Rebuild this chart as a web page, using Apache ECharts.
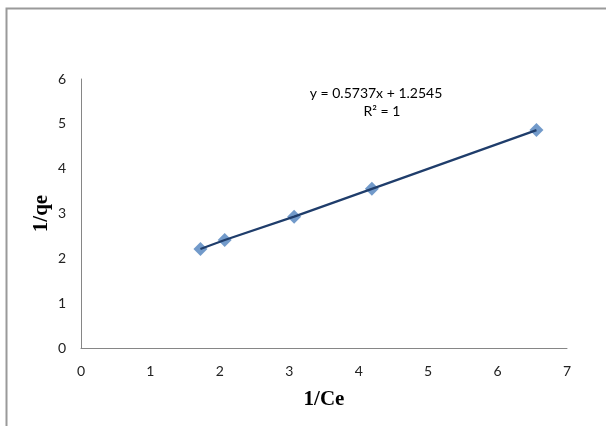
<!DOCTYPE html>
<html>
<head>
<meta charset="utf-8">
<script src="https://cdn.jsdelivr.net/npm/echarts@6/dist/echarts.min.js"></script>
<style>
  html, body { margin: 0; padding: 0; background: #fff; }
  #chart { width: 606px; height: 426px; }
</style>
</head>
<body>
<div id="chart"></div>
<script>
// 1/Ce vs 1/qe
const invCe = [1.72, 2.07, 3.07, 4.19, 6.56];
const invQe = [2.21, 2.41, 2.93, 3.55, 4.86];
const eqText = 'y = 0.5737x + 1.2545';
const r2Text = 'R² = 1';

const points = invCe.map((x, i) => [x, invQe[i]]);

const chart = echarts.init(document.getElementById('chart'));

const tickFont = { fontFamily: 'Lato, "Open Sans", sans-serif', fontSize: 14, color: '#222' };

chart.setOption({
  animation: false,
  backgroundColor: '#fff',
  grid: { left: 81, right: 39, top: 79, bottom: 78 },
  xAxis: {
    type: 'value',
    min: 0, max: 7, interval: 1,
    name: '1/Ce',
    nameLocation: 'middle',
    nameGap: 41,
    nameMoveOverlap: false,
    nameTextStyle: { fontFamily: '"Liberation Serif", serif', fontWeight: 'bold', fontSize: 21, color: '#000' },
    axisLine: { lineStyle: { color: '#868686', width: 1 } },
    axisTick: { show: false },
    splitLine: { show: false },
    axisLabel: Object.assign({ margin: 16 }, tickFont)
  },
  yAxis: {
    type: 'value',
    min: 0, max: 6, interval: 1,
    name: '1/qe',
    nameLocation: 'middle',
    nameGap: 29,
    nameMoveOverlap: false,
    nameRotate: 90,
    nameTextStyle: { fontFamily: '"Liberation Serif", serif', fontWeight: 'bold', fontSize: 21, color: '#000' },
    axisLine: { show: true, lineStyle: { color: '#868686', width: 1 } },
    axisTick: { show: false },
    splitLine: { show: false },
    axisLabel: Object.assign({ margin: 15 }, tickFont)
  },
  series: [
    {
      name: 'data',
      type: 'scatter',
      symbol: 'diamond',
      symbolSize: 14,
      itemStyle: { color: '#4F81BD' },
      data: points,
      z: 2
    },
    {
      name: 'trend',
      type: 'line',
      showSymbol: false,
      symbol: 'none',
      lineStyle: { color: '#1F3D6B', width: 2.2 },
      data: points,
      z: 3
    }
  ],
  graphic: [
    {
      type: 'rect',
      shape: { x: 6.5, y: 8.5, width: 700, height: 600 },
      style: { fill: null, stroke: '#9a9a9a', lineWidth: 2 },
      silent: true
    },
    {
      type: 'text',
      x: 376, y: 93,
      style: { text: eqText, fontFamily: 'Lato, "Open Sans", sans-serif', fontSize: 14, fill: '#000', align: 'center', verticalAlign: 'middle' }
    },
    {
      type: 'text',
      x: 382, y: 111,
      style: { text: r2Text, fontFamily: 'Lato, "Open Sans", sans-serif', fontSize: 14, fill: '#000', align: 'center', verticalAlign: 'middle' }
    }
  ]
});
</script>
</body>
</html>
